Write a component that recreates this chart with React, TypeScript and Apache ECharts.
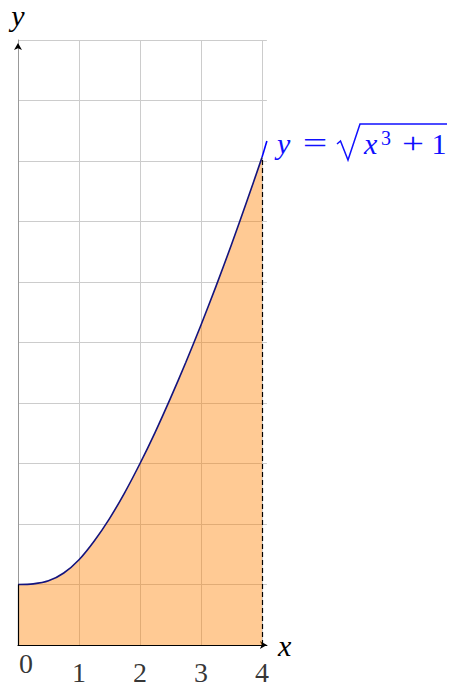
import React, { useEffect, useRef } from 'react';
import * as echarts from 'echarts';

// ---- data ----
const xTicks = [0, 1, 2, 3, 4];
const xTickLabels = ['0', '1', '2', '3', '4'];
const yTicks = [0, 1, 2, 3, 4, 5, 6, 7, 8, 9, 10];
const curveX = [0, 0.25, 0.5, 0.75, 1, 1.25, 1.5, 1.75, 2, 2.25, 2.5, 2.75, 3, 3.25, 3.5, 3.75, 4];
const curveY = [1, 1.01, 1.06, 1.19, 1.41, 1.72, 2.09, 2.52, 3.0, 3.52, 4.08, 4.67, 5.29, 5.94, 6.62, 7.33, 8.06];
const tailX = [4, 4.08];
const tailY = [8.06, 8.33];
const xMax = 4.08;
const yMax = yTicks[yTicks.length - 1];

const FONT = 'Liberation Serif';

export default function App() {
  const ref = useRef<HTMLDivElement>(null);

  useEffect(() => {
    const chart = echarts.init(ref.current as HTMLDivElement, null, { renderer: 'svg' });

    const curve = curveX.map((x, i) => [x, curveY[i]]);
    const tail = tailX.map((x, i) => [x, tailY[i]]);
    const lastY = curveY[curveY.length - 1];
    const lastX = curveX[curveX.length - 1];

    const gridLines = xTicks
      .filter((v) => v > 0)
      .map((v) => [{ coord: [v, 0] }, { coord: [v, yMax] }]);

    const tickMarks = xTicks
      .filter((v) => v > 0 && v < lastX)
      .map((v) => [{ coord: [v, -0.1] }, { coord: [v, 0.1] }]);

    const blue = '#1010ff';
    const txt = (text: string, x: number, y: number, extra: any = {}) => ({
      type: 'text',
      x,
      y,
      silent: true,
      scaleX: extra.scaleX || 1,
      style: {
        text,
        fill: blue,
        fontFamily: FONT,
        fontSize: extra.fontSize || 30,
        fontStyle: extra.italic ? 'italic' : 'normal',
        verticalAlign: 'middle',
        align: extra.align || 'left',
      },
    });

    const option: any = {
      animation: false,
      textStyle: { fontFamily: FONT },
      grid: { left: 18, top: 40, width: xMax * 61, height: 605, containLabel: false },
      xAxis: {
        type: 'value',
        min: 0,
        max: xMax,
        interval: 1,
        axisLine: {
          show: true,
          lineStyle: { color: '#000', width: 1.2 },
          symbol: ['none', 'arrow'],
          symbolSize: [6, 7],
        },
        axisTick: { show: false },
        axisLabel: { show: false },
        splitLine: { show: false },
        name: 'x',
        nameLocation: 'end',
        nameGap: 11,
        nameTextStyle: { fontFamily: FONT, fontStyle: 'italic', fontSize: 30, color: '#000', padding: [0, 0, 10, 0] },
      },
      yAxis: {
        type: 'value',
        min: 0,
        max: yMax,
        interval: 1,
        axisLine: { show: true, onZero: false, lineStyle: { color: '#999', width: 1 } },
        axisTick: { show: false },
        axisLabel: { show: false },
        splitLine: { show: true, lineStyle: { color: '#cccccc', width: 1 } },
        name: 'y',
        nameLocation: 'end',
        nameGap: 10,
        nameTextStyle: { fontFamily: FONT, fontStyle: 'italic', fontSize: 30, color: '#000' },
      },
      series: [
        {
          name: 'grid',
          type: 'line',
          data: [[0, 0]],
          symbol: 'none',
          silent: true,
          clip: false,
          z: 1,
          lineStyle: { width: 0 },
          markLine: {
            z: 1,
            silent: true,
            symbol: ['none', 'none'],
            label: { show: false },
            lineStyle: { color: '#cccccc', width: 1, type: 'solid' },
            data: gridLines,
          },
        },
        {
          name: 'area',
          type: 'line',
          data: curve,
          smooth: 0.3,
          symbol: 'none',
          clip: false,
          z: 2,
          lineStyle: { color: '#14147e', width: 1.6 },
          areaStyle: { color: 'rgb(255,128,0)', opacity: 0.42, origin: 'start' },
          markLine: {
            silent: true,
            symbol: ['none', 'none'],
            label: { show: false },
            data: [
              [
                { coord: [lastX, 0], lineStyle: { color: '#000', width: 1.2, type: [5, 3] } },
                { coord: [lastX, lastY] },
              ],
              [
                { coord: [0, 0], lineStyle: { color: '#000', width: 1.2, type: 'solid' } },
                { coord: [0, curveY[0]] },
              ],
              ...tickMarks.map((t) => [
                { ...t[0], lineStyle: { color: '#000', width: 1, type: 'solid' } },
                t[1],
              ]),
            ],
          },
          markPoint: {
            silent: true,
            label: { show: false },
            data: [
              {
                coord: [0, yMax],
                symbol: 'arrow',
                symbolSize: [6, 7],
                symbolOffset: [0, 3],
                itemStyle: { color: '#000' },
              },
            ],
          },
        },
        {
          name: 'tail',
          type: 'line',
          data: tail,
          symbol: 'none',
          clip: false,
          z: 3,
          lineStyle: { color: '#0000ff', width: 1.6 },
        },
        {
          name: 'ticklabels',
          type: 'scatter',
          silent: true,
          clip: false,
          z: 5,
          symbolSize: 0,
          data: xTicks.map((v, i) => ({
            value: [v, 0],
            label: { offset: i === 0 ? [8, 18] : [0, 27] },
          })),
          label: {
            show: true,
            position: 'inside',
            formatter: (p: any) => xTickLabels[p.dataIndex],
            fontFamily: FONT,
            fontSize: 28,
            lineHeight: 20,
            color: '#000',
          },
        },
      ],
      graphic: [
        txt('y', 277, 143, { italic: true }),
        txt('=', 315, 143, { align: 'center', scaleX: 1.45 }),
        {
          type: 'polyline',
          silent: true,
          shape: { points: [[337, 144], [340.5, 141], [348, 160], [360, 124], [447, 124]] },
          style: { stroke: blue, lineWidth: 1.5, fill: 'none', lineJoin: 'miter' },
        },
        txt('x', 364, 143, { italic: true }),
        txt('3', 381, 138, { fontSize: 20 }),
        txt('+', 413, 143, { align: 'center', scaleX: 1.3 }),
        txt('1', 439, 143, { align: 'center' }),
      ],
    };

    chart.setOption(option);
    return () => chart.dispose();
  }, []);

  return (
    <div
      ref={ref}
      style={{ position: 'absolute', left: 0, top: 0, width: 449, height: 686 }}
    />
  );
}
